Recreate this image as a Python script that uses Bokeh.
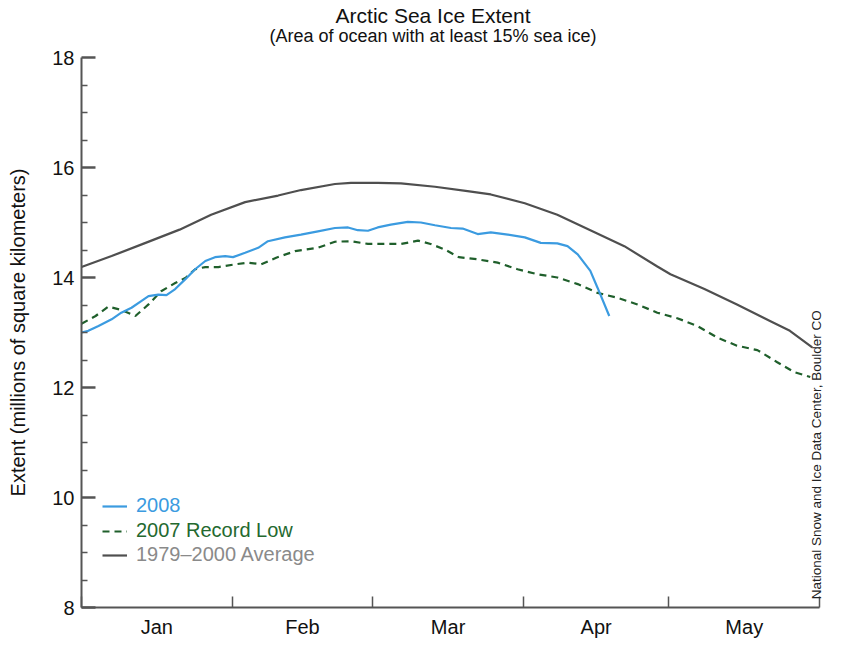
import math
from bokeh.plotting import figure
from bokeh.models import FixedTicker, Legend, LegendItem, LinearAxis
from bokeh.embed import file_html
from bokeh.resources import INLINE

# ---------------- data (day of year, starting Jan 1 = 0) ----------------
month_labels = ["Jan", "Feb", "Mar", "Apr", "May"]
month_edges = [0, 31, 60, 91, 121, 152]
month_mid = [15.5, 45.5, 75.5, 106, 136.5]

y_major = [8, 10, 12, 14, 16, 18]
y_minor = [8.5, 9, 9.5, 10.5, 11, 11.5, 12.5, 13, 13.5, 14.5, 15, 15.5,
           16.5, 17, 17.5]

day_2008 = [0, 1.4, 3.5, 6.2, 8.2, 10.3, 12.3, 13.8, 15.8, 17.5, 19.3, 21.4,
            23.4, 25.5, 27.5, 29.6, 31.2, 33.7, 36.4, 38.4, 41.9, 45.2, 48.7,
            52.2, 54.9, 56.9, 59.0, 61.0, 63.7, 67.2, 69.9, 72.8, 76.1, 78.5,
            81.6, 84.3, 87.8, 91.3, 94.6, 98.0, 100.1, 102.2, 104.8, 106.3,
            108.7]
ext_2008 = [13.00, 13.03, 13.12, 13.24, 13.36, 13.45, 13.57, 13.66, 13.69,
            13.68, 13.79, 13.97, 14.15, 14.30, 14.37, 14.39, 14.37, 14.45,
            14.54, 14.66, 14.73, 14.78, 14.84, 14.90, 14.91, 14.86, 14.85,
            14.91, 14.96, 15.01, 15.00, 14.95, 14.90, 14.89, 14.79, 14.82,
            14.78, 14.73, 14.63, 14.62, 14.57, 14.42, 14.12, 13.81, 13.30]

day_2007 = [0, 2.9, 5.5, 8.2, 11.1, 13.8, 16.4, 19.3, 21.4, 23.4, 25.5, 28.2,
            31.7, 34.3, 37.0, 40.1, 44.0, 48.7, 52.2, 55.5, 59.0, 62.5, 65.8,
            69.3, 71.9, 74.8, 77.7, 81.6, 85.7, 89.8, 93.9, 98.0, 102.2, 106.3,
            110.4, 114.5, 118.6, 122.7, 126.8, 130.9, 135.0, 139.2, 143.3,
            146.8, 150.1]
ext_2007 = [13.16, 13.30, 13.47, 13.41, 13.30, 13.51, 13.75, 13.90, 13.99,
            14.15, 14.19, 14.19, 14.24, 14.27, 14.24, 14.36, 14.48, 14.54,
            14.65, 14.66, 14.61, 14.61, 14.61, 14.67, 14.61, 14.51, 14.37,
            14.33, 14.27, 14.15, 14.06, 14.00, 13.88, 13.72, 13.63, 13.51,
            13.36, 13.26, 13.12, 12.91, 12.76, 12.68, 12.46, 12.28, 12.19]

day_avg = [0, 6.2, 13.2, 20.2, 26.7, 33.7, 40.5, 45.2, 52.2, 55.5, 61.0, 65.8,
           72.8, 79.5, 84.3, 91.3, 98.0, 104.8, 111.8, 118.6, 121.3, 128.3,
           135.0, 141.8, 145.9, 150.5]
ext_avg = [14.19, 14.39, 14.63, 14.87, 15.14, 15.37, 15.49, 15.59, 15.70,
           15.72, 15.72, 15.71, 15.65, 15.57, 15.51, 15.35, 15.14, 14.86,
           14.57, 14.20, 14.06, 13.79, 13.51, 13.21, 13.03, 12.73]

series_labels = ["2008", "2007 Record Low", "1979–2000 Average"]
title_text = "Arctic Sea Ice Extent"
subtitle_text = "(Area of ocean with at least 15% sea ice)"
title_center = 72.4          # day under the middle of the title lines
credit = "National Snow and Ice Data Center, Boulder CO"
credit_start = 8.15          # extent value where the (upward) credit begins

# ---------------- styling ----------------
FONT = "Liberation Sans"
BLUE = "#3b9be0"
GREEN = "#1f5f2b"
GREEN_TXT = "#24692f"
GRAY = "#4f4f4f"
GRAY_TXT = "#8a8a8a"
AXIS = "#555555"

p = figure(width=834, height=640, x_range=(0, 152), y_range=(8, 18),
           output_backend="svg", toolbar_location=None,
           min_border_left=81, min_border_right=12,
           min_border_top=51, min_border_bottom=31)
p.title.visible = False
p.outline_line_color = None
p.xgrid.grid_line_color = None
p.ygrid.grid_line_color = None
p.background_fill_color = "white"

# keep handles on the figure's own axes before adding any extra ones
xa = p.below[0]
ya = p.left[0]


def text_axis(tick, label, size, standoff, orientation="horizontal"):
    """An invisible axis whose single tick label carries a piece of text."""
    return LinearAxis(ticker=FixedTicker(ticks=[tick]),
                      major_label_overrides={tick: label},
                      major_label_orientation=orientation,
                      major_label_standoff=standoff,
                      axis_line_color=None, major_tick_out=0,
                      major_tick_in=0, minor_tick_out=0, minor_tick_in=0,
                      major_label_text_font=FONT,
                      major_label_text_font_size=size,
                      major_label_text_color="#111111")


# subtitle (closest to the plot), then the main title above it
p.add_layout(text_axis(title_center, subtitle_text, "18px", 12), "above")
p.add_layout(text_axis(title_center, title_text, "21px", -4), "above")

# x axis
xa.axis_label = None
xa.ticker = FixedTicker(ticks=month_mid, minor_ticks=month_edges)
xa.major_label_overrides = {m: lab for m, lab in zip(month_mid, month_labels)}
xa.major_tick_in = 0
xa.major_tick_out = 0
xa.minor_tick_in = 11
xa.minor_tick_out = 0
xa.minor_tick_line_color = AXIS
xa.minor_tick_line_width = 1.5
xa.axis_line_color = AXIS
xa.axis_line_width = 2
xa.major_label_text_font = FONT
xa.major_label_text_font_size = "20px"
xa.major_label_text_color = "#111111"
xa.major_label_standoff = 8

# y axis
ya.ticker = FixedTicker(ticks=y_major, minor_ticks=y_minor)
ya.major_tick_in = 14
ya.major_tick_out = 0
ya.minor_tick_in = 6
ya.minor_tick_out = 0
ya.major_tick_line_color = AXIS
ya.major_tick_line_width = 2.5
ya.minor_tick_line_color = AXIS
ya.minor_tick_line_width = 1.5
ya.axis_line_color = AXIS
ya.axis_line_width = 2
ya.major_label_text_font = FONT
ya.major_label_text_font_size = "20px"
ya.major_label_text_color = "#111111"
ya.major_label_standoff = 7
ya.axis_label = "Extent (millions of square kilometers)"
ya.axis_label_text_font = FONT
ya.axis_label_text_font_size = "20px"
ya.axis_label_text_font_style = "normal"
ya.axis_label_text_color = "#111111"
ya.axis_label_standoff = 20

# credit text on the right, reading upwards
ra = text_axis(credit_start, credit, "13.5px", -3, orientation=math.pi / 2)
ra.major_label_text_color = "#222222"
p.add_layout(ra, "right")

# lines
r_avg = p.line(day_avg, ext_avg, line_color=GRAY, line_width=2.2)
r_07 = p.line(day_2007, ext_2007, line_color=GREEN, line_width=2.2,
              line_dash="7 5")
r_08 = p.line(day_2008, ext_2008, line_color=BLUE, line_width=2.2)

# legends (one per entry so each label has its own colour)
for r, lab, col, ybot in [(r_08, series_labels[0], BLUE, 90),
                          (r_07, series_labels[1], GREEN_TXT, 65),
                          (r_avg, series_labels[2], GRAY_TXT, 41)]:
    lg = Legend(items=[LegendItem(label=lab, renderers=[r])],
                location=(21, ybot), padding=0, spacing=0, margin=0,
                glyph_width=25, glyph_height=22, label_height=22,
                label_standoff=9, border_line_color=None,
                background_fill_alpha=0,
                label_text_font=FONT, label_text_font_size="20px",
                label_text_color=col)
    p.add_layout(lg)

open("out.html", "w").write(file_html(p, INLINE))
